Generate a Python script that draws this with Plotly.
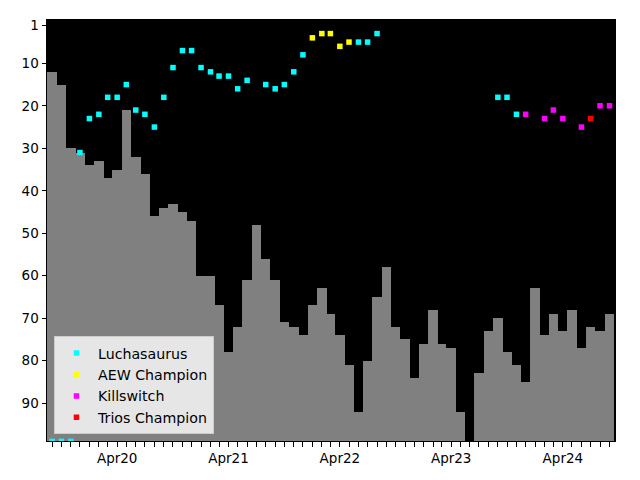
import pandas as pd
import plotly.graph_objects as go

# ---- data ----
months = pd.date_range("2019-09-01", "2024-09-01", freq="MS")
bar_ranks = [12, 15, 30, 31, 34, 33, 37, 35, 21, 32, 36, 46, 44, 43, 45, 47,
             60, 60, 67, 78, 72, 61, 48, 56, 61, 71, 72, 74,
             67, 63, 69, 74, 81, 92, 80, 65, 58, 72, 75, 84,
             76, 68, 76, 77, 92, None, 83, 73, 70, 78, 81, 85,
             63, 74, 69, 73, 68, 77, 72, 73, 69]

luchasaurus_dates = ["2019-09-01", "2019-10-01", "2019-11-01", "2019-12-01",
                     "2020-01-01", "2020-02-01", "2020-03-01", "2020-04-01",
                     "2020-05-01", "2020-06-01", "2020-07-01", "2020-08-01",
                     "2020-09-01", "2020-10-01", "2020-11-01", "2020-12-01",
                     "2021-01-01", "2021-02-01", "2021-03-01", "2021-04-01",
                     "2021-05-01", "2021-06-01", "2021-08-01", "2021-09-01",
                     "2021-10-01", "2021-11-01", "2021-12-01",
                     "2022-06-01", "2022-07-01", "2022-08-01",
                     "2023-09-01", "2023-10-01", "2023-11-01"]
luchasaurus_ranks = [99, 99, 99, 31, 23, 22, 18, 18, 15, 21, 22, 25, 18, 11, 7, 7,
                     11, 12, 13, 13, 16, 14, 15, 16, 15, 12, 8,
                     5, 5, 3, 18, 18, 22]

aew_dates = ["2022-01-01", "2022-02-01", "2022-03-01", "2022-04-01", "2022-05-01"]
aew_ranks = [4, 3, 3, 6, 5]

killswitch_dates = ["2023-12-01", "2024-02-01", "2024-03-01", "2024-04-01",
                    "2024-06-01", "2024-08-01", "2024-09-01"]
killswitch_ranks = [22, 23, 21, 23, 25, 20, 20]

trios_dates = ["2024-07-01"]
trios_ranks = [23]

y_ticks = [1, 10, 20, 30, 40, 50, 60, 70, 80, 90]
y_bottom = 100

# ---- figure ----
fig = go.Figure()

fig.add_trace(go.Bar(
    x=months,
    y=[None if v is None else y_bottom - v for v in bar_ranks],
    base=bar_ranks,
    width=31 * 86400000,
    marker=dict(color="#808080", line=dict(width=0)),
    showlegend=False,
    hoverinfo="skip",
))

series = [
    ("Luchasaurus", luchasaurus_dates, luchasaurus_ranks, "#00ffff"),
    ("AEW Champion", aew_dates, aew_ranks, "#ffff00"),
    ("Killswitch", killswitch_dates, killswitch_ranks, "#ff00ff"),
    ("Trios Champion", trios_dates, trios_ranks, "#ff0000"),
]
for name, d, r, c in series:
    fig.add_trace(go.Scatter(
        x=pd.to_datetime(d), y=r, mode="markers", name=name,
        marker=dict(symbol="square", size=5.5, color=c, line=dict(width=0)),
        cliponaxis=True,
    ))

tick_text = [m.strftime("%b%y") if m.month == 4 else "" for m in months]

fig.update_layout(
    width=640, height=480,
    margin=dict(l=47, r=25, t=20, b=39),
    paper_bgcolor="white",
    plot_bgcolor="black",
    font=dict(family="DejaVu Sans", size=13.5, color="black"),
    bargap=0,
    showlegend=True,
    legend=dict(
        x=0.0123, y=0.016, xanchor="left", yanchor="bottom",
        bgcolor="rgba(255,255,255,0.8)", bordercolor="#cccccc", borderwidth=1,
        font=dict(family="DejaVu Sans", size=14.2, color="black"),
        tracegroupgap=0, itemwidth=33,
    ),
    xaxis=dict(
        type="date",
        range=["2019-08-15", "2024-09-19"],
        tickmode="array", tickvals=months, ticktext=tick_text,
        ticks="outside", ticklen=4.5, tickcolor="black", tickwidth=1,
        showgrid=False, zeroline=False,
        showline=True, linecolor="black", linewidth=1, mirror=True,
    ),
    yaxis=dict(
        range=[98.9, -0.2],
        tickmode="array", tickvals=y_ticks,
        ticks="outside", ticklen=4.5, tickcolor="black", tickwidth=1,
        showgrid=False, zeroline=False,
        showline=True, linecolor="black", linewidth=1, mirror=True,
    ),
)

fig.write_html("out.html")
